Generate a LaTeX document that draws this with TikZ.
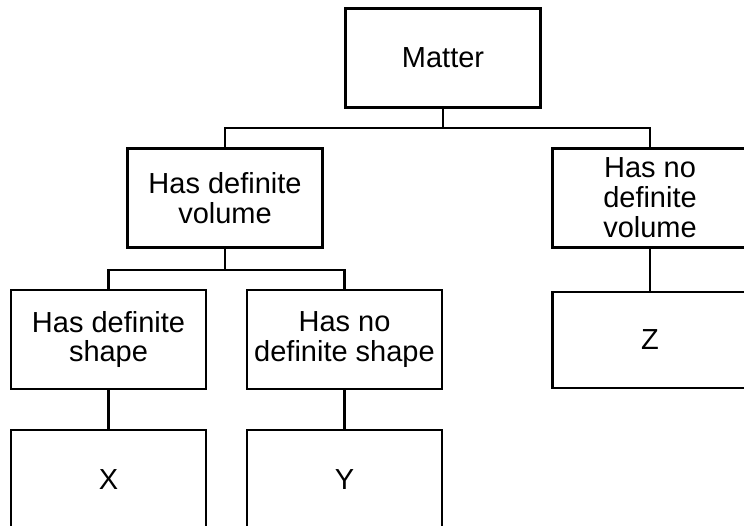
\documentclass[tikz,border=0pt]{standalone}
\usepackage{fontspec}
\setmainfont{Liberation Sans}
\usetikzlibrary{positioning}
\tikzset{
  box/.style={draw, line width=1.6pt, align=center, minimum width=3.9cm, minimum height=1.98cm, inner sep=2pt, font=\fontsize{16.5}{17}\selectfont},
  link/.style={line width=1.3pt}
}

\begin{document}
\begin{tikzpicture}[x=0.02cm, y=-0.02cm]
\useasboundingbox (0,0) rectangle (744,526);
\clip (0,0) rectangle (744,526);
\node[box] (matter) at (443,58) {Matter};
\node[box] (hasvol) at (225,198) {Has definite\\ volume};
\node[box] (novol) at (650,198) {Has no\\ definite\\ volume};
\node[box] (hasshape) at (108.5,339.5) {Has definite\\ shape};
\node[box] (noshape) at (344.5,339.5) {Has no\\ definite shape};
\node[box, minimum height=1.92cm] (zbox) at (650,340) {Z};
\node[box, minimum height=2cm] (xbox) at (108.5,480) {X};
\node[box, minimum height=2cm] (ybox) at (344.5,480) {Y};
\coordinate (split1) at (443,128);
\coordinate (split2) at (225,270);
\draw[link] (matter.south) -- (split1);
\draw[link] (hasvol.north) |- (split1) -| (novol.north);
\draw[link] (hasvol.south) -- (split2);
\draw[link] (hasshape.north) |- (split2) -| (noshape.north);
\draw[link] (novol.south) -- (zbox.north);
\draw[link] (hasshape.south) -- (xbox.north);
\draw[link] (noshape.south) -- (ybox.north);
\end{tikzpicture}
\end{document}
